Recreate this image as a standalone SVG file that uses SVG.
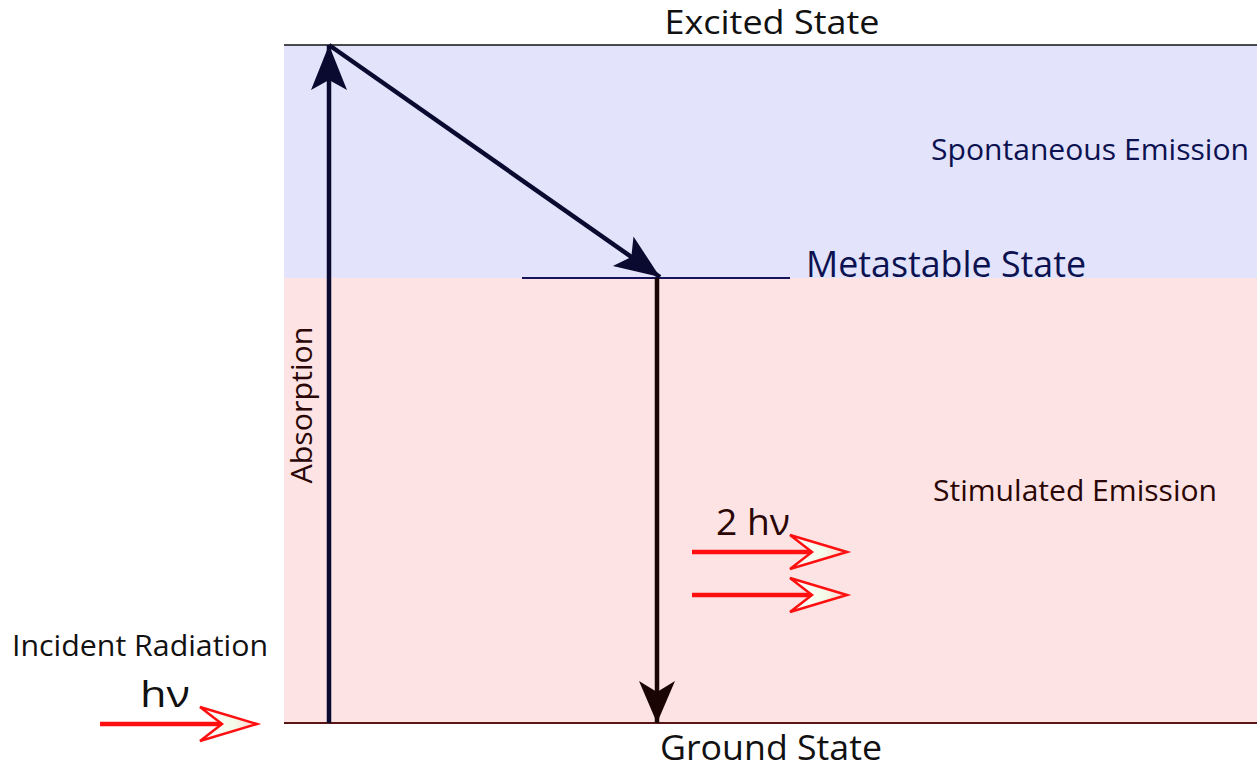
<svg xmlns="http://www.w3.org/2000/svg" width="1257" height="769" viewBox="0 0 1257 769">
<defs>
<style>
.t{font-family:"Open Sans","Liberation Sans",sans-serif}
.navy{fill:#0c1150}
.brown{fill:#2a0606}
.blk{fill:#111}
.shaft{stroke-width:4.5;fill:none}
.red{stroke:#ff1010;stroke-width:4.5;fill:none}
.rhead{fill:url(#rg);stroke:#ff1010;stroke-width:2.5;stroke-linejoin:miter}
</style>
<linearGradient id="rg" x1="0" y1="0" x2="1" y2="0">
<stop offset="0" stop-color="#ffffff"/>
<stop offset="0.6" stop-color="#f4fbe8"/>
<stop offset="1" stop-color="#ffd0d0"/>
</linearGradient>
<marker id="hn" markerUnits="userSpaceOnUse" orient="auto" refX="0" refY="0" markerWidth="1" markerHeight="1" overflow="visible">
<path d="M0,0 L-45,-18 L-35,0 L-45,18 Z" fill="#0a0a30"/>
</marker>
<marker id="hb" markerUnits="userSpaceOnUse" orient="auto" refX="0" refY="0" markerWidth="1" markerHeight="1" overflow="visible">
<path d="M0,0 L-42,-18 L-31,0 L-42,18 Z" fill="#1a0505"/>
</marker>
</defs>
<g id="regions">
<rect x="284" y="45" width="973" height="233" fill="#e3e3fb"/>
<rect x="284" y="278" width="973" height="445" fill="#fde3e3"/>
</g>
<g id="levels">
<line x1="284" y1="45" x2="1257" y2="45" stroke="#111" stroke-width="1.5"/>
<line x1="522" y1="278" x2="790" y2="278" stroke="#14145a" stroke-width="2"/>
<line x1="284" y1="723" x2="1257" y2="723" stroke="#5a1515" stroke-width="2"/>
</g>
<g id="connectors">
<line x1="329" y1="723" x2="329" y2="45" class="shaft" stroke="#0a0a30" marker-end="url(#hn)"/>
<line x1="329" y1="45" x2="660" y2="277" class="shaft" stroke="#0a0a30" marker-end="url(#hn)"/>
<line x1="657" y1="278" x2="657" y2="723" class="shaft" stroke="#1a0505" marker-end="url(#hb)"/>
</g>
<g id="incident">
<line x1="100" y1="724" x2="224" y2="724" class="red"/>
<path class="rhead" d="M257,724 L200,707 L222,724 L200,741 Z"/>
</g>
<g id="emitted">
<line x1="692" y1="552" x2="814" y2="552" class="red"/>
<path class="rhead" d="M847,552 L790,535 L812,552 L790,569 Z"/>
<line x1="692" y1="595" x2="814" y2="595" class="red"/>
<path class="rhead" d="M847,595 L790,578 L812,595 L790,612 Z"/>
</g>
<g id="labels">
<text class="t blk" x="772" y="34" font-size="33" text-anchor="middle" textLength="215" lengthAdjust="spacingAndGlyphs">Excited State</text>
<text class="t navy" x="1090" y="160" font-size="30" text-anchor="middle" textLength="318" lengthAdjust="spacingAndGlyphs">Spontaneous Emission</text>
<text class="t navy" x="946" y="277" font-size="36" text-anchor="middle" textLength="280" lengthAdjust="spacingAndGlyphs">Metastable State</text>
<text class="t brown" x="1075" y="501" font-size="30" text-anchor="middle" textLength="284" lengthAdjust="spacingAndGlyphs">Stimulated Emission</text>
<text class="t brown" transform="translate(312,405) rotate(-90)" font-size="30" text-anchor="middle" textLength="157" lengthAdjust="spacingAndGlyphs">Absorption</text>
<text class="t brown" x="753" y="535" font-size="36" text-anchor="middle" textLength="74" lengthAdjust="spacingAndGlyphs">2 hν</text>
<text class="t blk" x="140" y="656" font-size="30" text-anchor="middle" textLength="256" lengthAdjust="spacingAndGlyphs">Incident Radiation</text>
<text class="t blk" x="165" y="707" font-size="36" text-anchor="middle" textLength="50" lengthAdjust="spacingAndGlyphs">hν</text>
<text class="t blk" x="771" y="760" font-size="34" text-anchor="middle" textLength="222" lengthAdjust="spacingAndGlyphs">Ground State</text>
</g>
</svg>
